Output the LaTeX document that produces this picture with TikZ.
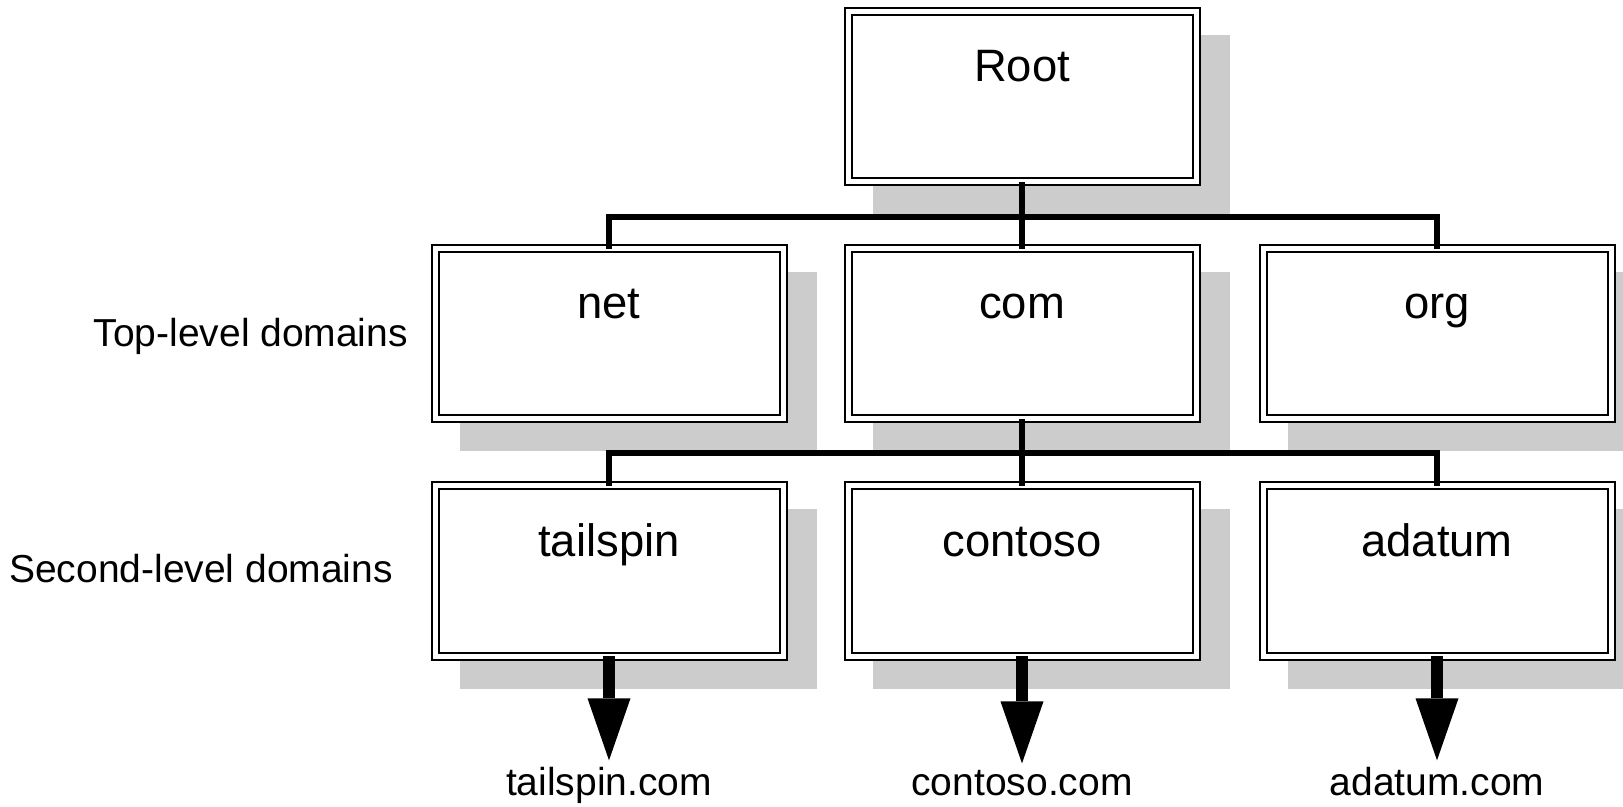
\documentclass[tikz,border=0pt]{standalone}
\usepackage{fontspec}
\setmainfont{Liberation Sans}
\usetikzlibrary{arrows.meta,backgrounds}

\begin{document}
\begin{tikzpicture}[x=0.5pt,y=-0.5pt,
    dom/.style={draw, double, line width=1pt, double distance=2.5pt, fill=white,
      inner sep=0pt, outer sep=0pt, minimum width=174pt,
      text height=35pt, text depth=50pt, font=\fontsize{22.7}{27}\selectfont},
    side/.style={anchor=base east, font=\fontsize{19.5}{23}\selectfont},
    site/.style={anchor=base, inner sep=3pt, font=\fontsize{19.5}{23}\selectfont},
    shade/.style={fill=black!20},
    bus/.style={line width=3pt},
    pointer/.style={line width=6.2pt, -{Triangle[width=21.5pt,length=31pt,line width=0pt]}}]
    \useasboundingbox (0,0) rectangle (1623,807);
    % domain boxes
    \node[dom] at (1022,97) (R) {Root};
    \node[dom] at (609,334) (N) {net};
    \node[dom] at (1022,334) (C) {com};
    \node[dom] at (1437,334) (O) {org};
    \node[dom] at (609,571) (T) {tailspin};
    \node[dom] at (1022,571) (Co) {contoso};
    \node[dom] at (1437,571) (A) {adatum};
    % level names and full names
    \node[side] at (415,347) (tld) {Top-level domains};
    \node[side] at (400,582) (sld) {Second-level domains};
    \node[site] at (609,795) (Tc) {tailspin.com};
    \node[site] at (1022,795) (Coc) {contoso.com};
    \node[site] at (1437,795) (Ac) {adatum.com};
    \begin{scope}[on background layer]
        \foreach \b in {R,N,C,O,T,Co,A}
            \fill[shade] ([shift={(24.5,23.5)}]\b.north west) rectangle ([shift={(33.5,32.5)}]\b.south east);
    \end{scope}
    % tree lines
    \coordinate (b1) at (1022,217);
    \coordinate (b2) at (1022,453);
    \draw[bus] (R) -- (b1);
    \draw[bus] (N.north) |- (b1) -| (O.north);
    \draw[bus] (b1) -- (C.north);
    \draw[bus] (C) -- (b2);
    \draw[bus] (T.north) |- (b2) -| (A.north);
    \draw[bus] (b2) -- (Co.north);
    \draw[pointer] (T) -- (Tc);
    \draw[pointer] (Co) -- (Coc);
    \draw[pointer] (A) -- (Ac);
\end{tikzpicture}
\end{document}
